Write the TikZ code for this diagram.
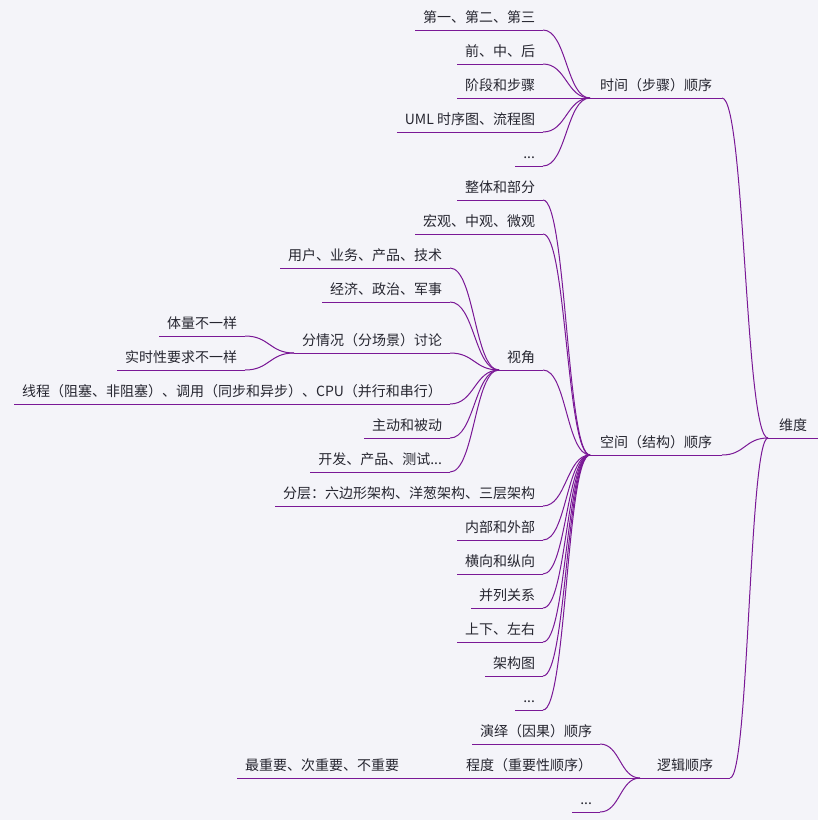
\documentclass[tikz,border=0pt]{standalone}
\usepackage{fontspec}
\newfontfamily\cjk{Noto Sans CJK SC}
\usepackage{tikz,xcolor}
\usetikzlibrary{calc}

\definecolor{mmbg}{RGB}{244,244,249}
\definecolor{mmline}{RGB}{122,24,150}
\definecolor{mmtext}{RGB}{38,38,48}

\tikzset{
  topic/.style={font=\cjk\fontsize{14}{16}\selectfont, text=mmtext, text height=11pt, text depth=3pt,
    inner ysep=5pt, inner xsep=8pt, outer sep=0pt},
  leaf/.style={topic, anchor=south east},
  major/.style={topic, anchor=south west, inner xsep=10pt, minimum width=90pt},
  uline/.style={draw=mmline, line width=1pt},
  link/.style={uline, to path={let \p1=(\tikztostart), \p2=(\tikztotarget) in
    .. controls ({(\x1+\x2)/2},\y1) and ({(\x1+\x2)/2},\y2) .. (\tikztotarget)}}
}

\begin{document}
\begin{tikzpicture}[x=1pt,y=-1pt]
% background
\path[use as bounding box, fill=mmbg] (0,0) rectangle (818,820);

% root
\node[topic, anchor=south west, inner xsep=11pt] (dim) at (768,438) {维度};

% first level
\node[major] (time) at (590,98) {时间（步骤）顺序};
\node[major] (space) at (590,455) {空间（结构）顺序};
\node[major] (logic) at (640,778) {逻辑顺序};

% time
\node[leaf] (t1) at (543,30) {第一、第二、第三};
\node[leaf] (t2) at (543,64) {前、中、后};
\node[leaf] (t3) at (543,98) {阶段和步骤};
\node[leaf] (t4) at (543,132) {UML 时序图、流程图};
\node[leaf] (t5) at (543,166) {...};

% space
\node[leaf] (s1) at (543,200) {整体和部分};
\node[leaf] (s2) at (543,234) {宏观、中观、微观};
\node[leaf] (view) at (543,370) {视角};
\node[leaf] (s4) at (543,506) {分层：六边形架构、洋葱架构、三层架构};
\node[leaf] (s5) at (543,540) {内部和外部};
\node[leaf] (s6) at (543,574) {横向和纵向};
\node[leaf] (s7) at (543,608) {并列关系};
\node[leaf] (s8) at (543,642) {上下、左右};
\node[leaf] (s9) at (543,676) {架构图};
\node[leaf] (s10) at (543,710) {...};

% view
\node[leaf] (v1) at (450,268) {用户、业务、产品、技术};
\node[leaf] (v2) at (450,302) {经济、政治、军事};
\node[leaf] (case) at (450,353) {分情况（分场景）讨论};
\node[leaf] (v4) at (450,404) {线程（阻塞、非阻塞）、调用（同步和异步）、CPU（并行和串行）};
\node[leaf] (v5) at (450,438) {主动和被动};
\node[leaf] (v6) at (450,472) {开发、产品、测试...};

% case
\node[leaf] (c1) at (245,336) {体量不一样};
\node[leaf] (c2) at (245,370) {实时性要求不一样};

% logic
\node[leaf] (l1) at (600,744) {演绎（因果）顺序};
\node[leaf] (degree) at (600,778) {程度（重要性顺序）};
\node[leaf] (l3) at (600,812) {...};
\node[leaf] (d1) at (407,778) {最重要、次重要、不重要};

% underlines
\foreach \n in {dim,time,space,logic,t1,t2,t3,t4,t5,s1,s2,view,s4,s5,s6,s7,s8,s9,s10,
  v1,v2,case,v4,v5,v6,c1,c2,l1,degree,l3,d1}
  \draw[uline] (\n.south west) -- (\n.south east);

% links
\foreach \n in {time,space,logic}
  \draw[link] (\n.south east) to (dim.south west);
\foreach \n in {t1,t2,t3,t4,t5}
  \draw[link] (\n.south east) to (time.south west);
\foreach \n in {s1,s2,view,s4,s5,s6,s7,s8,s9,s10}
  \draw[link] (\n.south east) to (space.south west);
\foreach \n in {v1,v2,case,v4,v5,v6}
  \draw[link] (\n.south east) to (view.south west);
\foreach \n in {c1,c2}
  \draw[link] (\n.south east) to (case.south west);
\foreach \n in {l1,degree,l3}
  \draw[link] (\n.south east) to (logic.south west);
\draw[link] (d1.south east) to (degree.south west);
\end{tikzpicture}
\end{document}
